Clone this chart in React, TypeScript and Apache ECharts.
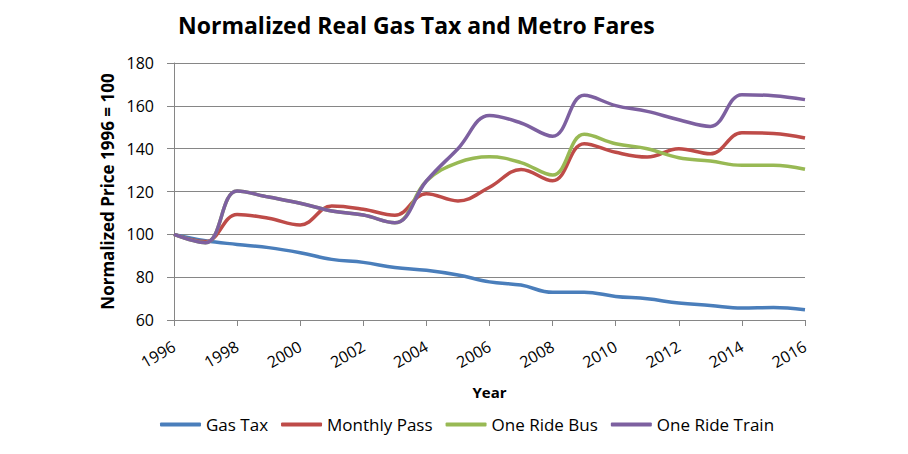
import React, { useEffect, useRef } from "react";
import * as echarts from "echarts";

const years = [1996, 1997, 1998, 1999, 2000, 2001, 2002, 2003, 2004, 2005, 2006, 2007, 2008, 2009, 2010, 2011, 2012, 2013, 2014, 2015, 2016];

const gasTax = [100, 97, 95.3, 93.8, 91.4, 88.3, 86.9, 84.5, 83.2, 81, 77.8, 76.3, 72.9, 73, 71, 69.9, 67.9, 66.8, 65.6, 65.8, 64.8];
const monthlyPass = [100, 96.6, 109.3, 107.5, 104.4, 113.2, 111.7, 108.9, 119, 115.6, 122, 130.3, 125, 142.3, 138.3, 136.1, 140, 137.6, 147.4, 147.1, 145];
const oneRideBus = [100, 96.1, 120.2, 117.4, 114.5, 110.9, 109, 105.4, 124.9, 133.5, 136.2, 133.5, 127.7, 146.7, 142.3, 140, 135.8, 134.2, 132.2, 132.2, 130.4];
const oneRideTrain = [100, 96.1, 120.2, 117.4, 114.5, 110.9, 109, 105.4, 124.9, 140, 155.5, 152, 145.8, 164.9, 160.1, 157.4, 153.5, 150.4, 165.2, 164.7, 162.9];

const seriesNames = ["Gas Tax", "Monthly Pass", "One Ride Bus", "One Ride Train"];
const seriesColors = ["#4A7EBB", "#BE4B48", "#98B954", "#7D60A0"];
const seriesValues = [gasTax, monthlyPass, oneRideBus, oneRideTrain];

const FONT = "Open Sans";
const GRID_GRAY = "#868686";

export default function App() {
  const ref = useRef<HTMLDivElement>(null);

  useEffect(() => {
    if (!ref.current) return;
    const chart = echarts.init(ref.current, undefined, { renderer: "svg" });
    chart.setOption({
      animation: false,
      backgroundColor: "#ffffff",
      title: {
        text: "Normalized Real Gas Tax and Metro Fares",
        left: 173,
        top: 8,
        textStyle: { fontFamily: FONT, fontWeight: "bold", fontSize: 23, color: "#000" },
      },
      legend: {
        data: seriesNames,
        left: 155,
        top: 411,
        icon: "roundRect",
        itemWidth: 41,
        itemHeight: 4,
        itemGap: 13,
        textStyle: { fontFamily: FONT, fontSize: 17, color: "#000" },
      },
      grid: { left: 174, right: 103, top: 63, bottom: 134 },
      xAxis: {
        type: "value",
        min: 1996,
        max: 2016,
        interval: 2,
        name: "Year",
        nameLocation: "middle",
        nameGap: 64,
        nameTextStyle: { fontFamily: FONT, fontWeight: "bold", fontSize: 15, color: "#000" },
        axisLine: { show: true, lineStyle: { color: GRID_GRAY, width: 1 } },
        axisTick: { show: true, length: 6, lineStyle: { color: GRID_GRAY } },
        splitLine: { show: false },
        axisLabel: {
          rotate: 30,
          margin: 25,
          fontFamily: FONT,
          fontSize: 16,
          color: "#000",
          formatter: (v: number) => String(v),
        },
      },
      yAxis: {
        type: "value",
        min: 60,
        max: 180,
        interval: 20,
        name: "Normalized Price 1996 = 100",
        nameLocation: "middle",
        nameGap: 48,
        nameTextStyle: { fontFamily: FONT, fontWeight: "bold", fontSize: 17, color: "#000" },
        axisLine: { show: true, lineStyle: { color: GRID_GRAY, width: 1 } },
        axisTick: { show: true, length: 7, lineStyle: { color: GRID_GRAY } },
        splitLine: { show: true, lineStyle: { color: GRID_GRAY, width: 1 } },
        axisLabel: { fontFamily: FONT, fontSize: 16, color: "#000", margin: 20 },
      },
      series: seriesNames.map((name, i) => ({
        name,
        type: "line",
        smooth: 0.4,
        showSymbol: false,
        symbol: "none",
        color: seriesColors[i],
        lineStyle: { width: 3.5, color: seriesColors[i] },
        data: years.map((y, j) => [y, seriesValues[i][j]]),
      })),
    });
    return () => chart.dispose();
  }, []);

  return (
    <div
      ref={ref}
      style={{ position: "absolute", left: 0, top: 0, width: 908, height: 454 }}
    />
  );
}
